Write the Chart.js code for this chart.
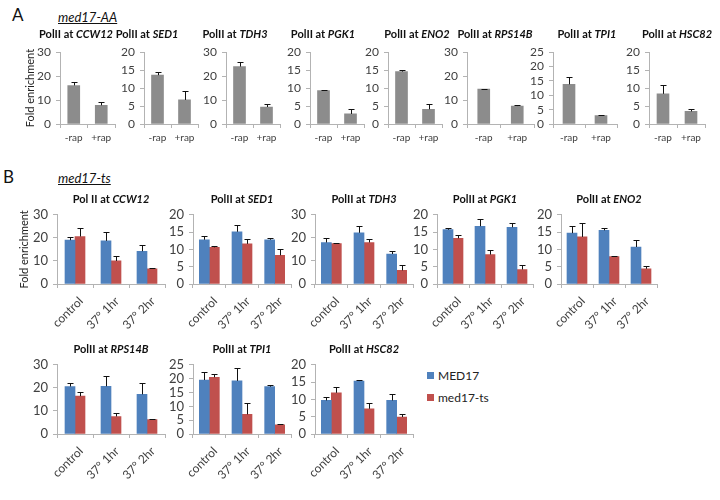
<!DOCTYPE html>
<html>
<head>
<meta charset="utf-8">
<script src="https://cdn.jsdelivr.net/npm/chart.js@4.4.0/dist/chart.umd.min.js"></script>
<style>
  body { margin: 0; background: #fff; font-family: Lato, "Open Sans", sans-serif; }
  #fig { position: relative; width: 720px; height: 500px; overflow: hidden; }
  #fig canvas { position: absolute; }
  .ttl { position: absolute; font-size: 11px; font-weight: bold; white-space: nowrap; transform: translate(-50%, -50%); color: #111; z-index: 2; }
  .panel { position: absolute; font-size: 17px; color: #111; }
  .strain { position: absolute; font-size: 13px; font-style: italic; text-decoration: underline; color: #111; }
  .leg { position: absolute; font-size: 12px; color: #222; white-space: nowrap; }
  .leg span { display: inline-block; width: 7px; height: 7px; margin-right: 4px; vertical-align: 1px; }
</style>
</head>
<body>
<div id="fig">
  <div class="panel" style="left:12px;top:4px">A</div>
  <div class="strain" style="left:58px;top:9px">med17-AA</div>
  <div class="panel" style="left:3px;top:166px">B</div>
  <div class="strain" style="left:58px;top:170px">med17-ts</div>
  <div class="leg" style="left:427px;top:368px"><span style="background:#4f81bd"></span>MED17</div>
  <div class="leg" style="left:427px;top:390px"><span style="background:#c0504d"></span>med17-ts</div>
</div>
<script>
// panel A: med17-AA, -rap / +rap
var rapLabels = ["-rap", "+rap"];
var genesA = ["CCW12", "SED1", "TDH3", "PGK1", "ENO2", "RPS14B", "TPI1", "HSC82"];
var minusRap = [16.1, 13.6, 24.0, 9.3, 14.6, 14.6, 13.8, 8.4];
var minusRapErr = [1.6, 1.0, 1.7, 0.3, 0.4, 0.2, 2.5, 2.6];
var plusRap = [7.8, 6.7, 7.1, 2.8, 4.1, 7.5, 2.9, 3.5];
var plusRapErr = [1.6, 2.4, 1.1, 1.3, 1.4, 0.6, 0.1, 0.6];
var yMaxA = [30, 20, 30, 20, 20, 30, 25, 20];
var yStepA = [10, 5, 10, 5, 5, 10, 5, 5];

// panel B: med17-ts, one row per gene (control, 37° 1hr, 37° 2hr)
var heatLabels = ["control", "37° 1hr", "37° 2hr"];
var seriesNames = ["MED17", "med17-ts"];
var genesB = ["CCW12", "SED1", "TDH3", "PGK1", "ENO2", "RPS14B", "TPI1", "HSC82"];
var med17Values = [[19.0, 18.7, 14.2], [12.8, 15.1, 12.8], [18.0, 22.2, 13.0], [15.7, 16.7, 16.4],
                   [14.7, 15.5, 10.7], [20.6, 20.7, 17.2], [19.5, 19.2, 17.1], [9.7, 15.3, 9.7]];
var med17Errors = [[1.3, 3.9, 2.7], [1.0, 1.9, 0.5], [1.9, 2.8, 1.1], [0.6, 2.0, 1.3],
                   [2.1, 0.6, 2.0], [1.5, 4.3, 4.8], [3.0, 4.5, 0.6], [1.0, 0.4, 1.9]];
var tsValues = [[20.6, 10.0, 6.6], [10.6, 11.6, 8.3], [17.5, 18.0, 5.9], [13.2, 8.5, 4.2],
                [13.6, 7.9, 4.4], [16.4, 7.6, 6.3], [20.5, 7.1, 3.3], [11.9, 7.3, 4.9]];
var tsErrors = [[3.8, 2.0, 0.2], [0.4, 1.5, 1.9], [0.3, 1.5, 2.2], [1.1, 1.2, 1.2],
                [3.9, 0.3, 0.8], [1.9, 1.5, 0.3], [1.0, 4.0, 0.2], [1.8, 1.7, 1.0]];
var yMaxB = [30, 20, 30, 20, 20, 30, 25, 20];
var yStepB = [10, 5, 10, 5, 5, 10, 5, 5];

// layout (page pixels)
var plotXA = [[60, 115], [144, 198], [226, 280], [310, 364], [388, 442], [467, 534], [553, 617], [649, 705]];
var titleXA = [76, 147, 235, 323, 417, 495, 587, 677];
var plotB = [[57, 165, 210], [193, 291, 210], [315, 413, 210], [437, 533, 210], [561, 657, 210],
             [57, 165, 360], [193, 291, 360], [315, 413, 360]];

var axisColor = "#b3b3b3";
var tickColor = "#404040";
var fontFamily = "Lato, 'Open Sans', sans-serif";
var fig = document.getElementById("fig");

// upper error bars with a cap, Excel style
var errorBars = {
  id: "errorBars",
  afterDatasetsDraw: function (chart) {
    var ctx = chart.ctx;
    var y = chart.scales.y;
    ctx.save();
    ctx.strokeStyle = "#111";
    ctx.lineWidth = 1;
    chart.data.datasets.forEach(function (ds, i) {
      chart.getDatasetMeta(i).data.forEach(function (bar, j) {
        var x = Math.round(bar.x) + 0.5;
        var top = Math.round(y.getPixelForValue(ds.data[j] + ds.errors[j])) + 0.5;
        ctx.beginPath();
        ctx.moveTo(x, bar.y);
        ctx.lineTo(x, top);
        ctx.moveTo(x - 3, top);
        ctx.lineTo(x + 3, top);
        ctx.stroke();
      });
    });
    ctx.restore();
  }
};

function addTitle(text, gene, cx, cy) {
  var d = document.createElement("div");
  d.className = "ttl";
  d.style.left = cx + "px";
  d.style.top = cy + "px";
  d.innerHTML = text + " <i>" + gene + "</i>";
  fig.appendChild(d);
}

function makeChart(x0, x1, top, h, labels, datasets, max, step, yTitle, rotate, tickSize) {
  var yW = yTitle ? 44 : 30;
  var padT = 8, padR = 4;
  var xH = rotate ? 66 : 24;
  var canvas = document.createElement("canvas");
  canvas.width = yW + (x1 - x0) + padR;
  canvas.height = padT + h + xH;
  canvas.style.left = (x0 - yW) + "px";
  canvas.style.top = (top - padT) + "px";
  fig.appendChild(canvas);
  return new Chart(canvas.getContext("2d"), {
    type: "bar",
    data: { labels: labels, datasets: datasets },
    plugins: [errorBars],
    options: {
      responsive: false,
      animation: false,
      devicePixelRatio: 1,
      layout: { padding: { left: 0, right: padR, top: padT, bottom: 0 } },
      plugins: { legend: { display: false }, tooltip: { enabled: false } },
      scales: {
        x: {
          grid: { offset: true, drawOnChartArea: false, tickLength: 4, color: axisColor },
          border: { color: axisColor },
          ticks: {
            autoSkip: false,
            minRotation: rotate ? 45 : 0,
            maxRotation: rotate ? 45 : 0,
            padding: rotate ? 6 : 4,
            labelOffset: rotate ? 6 : 0,
            color: tickColor,
            font: { family: fontFamily, size: rotate ? 12 : 10 }
          },
          afterFit: function (s) { s.height = xH; }
        },
        y: {
          min: 0,
          max: max,
          ticks: { stepSize: step, autoSkip: false, padding: 5, color: tickColor, font: { family: fontFamily, size: tickSize } },
          grid: { drawOnChartArea: false, tickLength: 4, color: axisColor },
          border: { color: axisColor },
          title: {
            display: !!yTitle,
            text: "Fold enrichment",
            color: "#222",
            font: { family: fontFamily, size: 11 },
            padding: { top: rotate ? 5 : 8, bottom: 0 }
          },
          afterFit: function (s) { s.width = yW; }
        }
      }
    }
  });
}

// panel A
genesA.forEach(function (gene, i) {
  makeChart(plotXA[i][0], plotXA[i][1], 48, 76, rapLabels, [{
    label: gene,
    data: [minusRap[i], plusRap[i]],
    errors: [minusRapErr[i], plusRapErr[i]],
    backgroundColor: "#8c8c8c",
    barThickness: 12
  }], yMaxA[i], yStepA[i], i === 0, false, 12);
  addTitle("PolII at", gene, titleXA[i], 33);
});

// panel B
genesB.forEach(function (gene, i) {
  var p = plotB[i];
  makeChart(p[0], p[1], p[2], 74, heatLabels, [{
    label: seriesNames[0],
    data: med17Values[i],
    errors: med17Errors[i],
    backgroundColor: "#4f81bd",
    barThickness: 10
  }, {
    label: seriesNames[1],
    data: tsValues[i],
    errors: tsErrors[i],
    backgroundColor: "#c0504d",
    barThickness: 10
  }], yMaxB[i], yStepB[i], i === 0, true, 13);
  addTitle(i === 0 ? "Pol II at" : "PolII at", gene, (p[0] + p[1]) / 2, p[2] - 12);
});
</script>
</body>
</html>
